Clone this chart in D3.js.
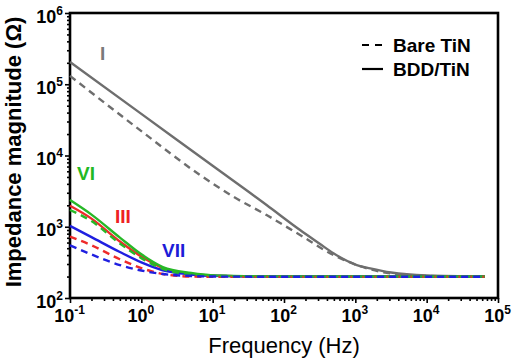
<!DOCTYPE html>
<html>
<head>
<meta charset="utf-8">
<script src="https://cdn.jsdelivr.net/npm/d3@7"></script>
<style>
  body { margin: 0; background: #fff; }
  text { font-family: "Liberation Sans", Arial, sans-serif; }
</style>
</head>
<body>
<svg id="chart" width="517" height="362"></svg>
<script>
// data (frequency in Hz, impedance in ohm)
const freqGray = [0.1, 1, 10, 57, 168, 316, 493, 1050, 1615, 3162, 10000, 65000];
const grayBDD = [205000, 38400, 7160, 2020, 900, 578, 424, 290, 261, 228, 207, 200];
const freqGrayBare = [0.1, 1, 6.65, 19.5, 57, 168, 493, 1450, 3162, 10000, 65000];
const grayBare = [131000, 22000, 5320, 2640, 1460, 766, 402, 261, 221, 204, 199];

const freqLow = [0.1, 0.2, 0.5, 1, 2, 5, 10, 100, 1000, 10000, 65000];
const greenBDD = [2370, 1480, 705, 410, 272, 224, 208, 201, 200, 200, 200];
const redBDD = [1970, 1300, 620, 382, 263, 217, 206, 200, 200, 200, 200];
const blueBDD = [1030, 716, 442, 316, 245, 214, 205, 200, 200, 200, 200];
const greenBare = [1720, 1200, 582, 363, 257, 215, 205, 200, 200, 200, 200];
const redBare = [725, 550, 350, 263, 217, 200, 198, 198, 198, 199, 199];
const blueBare = [550, 408, 290, 243, 217, 204, 200, 199, 199, 199, 199];

const xMajor = [-1, 0, 1, 2, 3, 4, 5];
const yMajor = [2, 3, 4, 5, 6];

const gray = "#6e6e6e", green = "#27b827", red = "#ee2a2a", blue = "#1f1fe0";

const svg = d3.select("#chart");
const plotL = 70, plotR = 498, plotT = 13, plotB = 298;

const x = d3.scaleLog().domain([0.1, 1e5]).range([plotL, plotR]);
const y = d3.scaleLog().domain([100, 1e6]).range([plotB, plotT]);

// minor ticks 2..9 per decade
let minorX = [], minorY = [];
for (let e = -1; e < 5; e++) for (let k = 2; k < 10; k++) minorX.push(k * Math.pow(10, e));
for (let e = 2; e < 6; e++) for (let k = 2; k < 10; k++) minorY.push(k * Math.pow(10, e));

const axisG = svg.append("g");

axisG.append("g")
  .attr("transform", "translate(0," + plotB + ")")
  .call(d3.axisBottom(x).tickValues(minorX).tickSize(3).tickFormat(""));
axisG.append("g")
  .attr("transform", "translate(" + plotL + ",0)")
  .call(d3.axisLeft(y).tickValues(minorY).tickSize(3).tickFormat(""));

const xg = axisG.append("g")
  .attr("transform", "translate(0," + plotB + ")")
  .call(d3.axisBottom(x).tickValues(xMajor.map(e => Math.pow(10, e))).tickSize(5));
const yg = axisG.append("g")
  .attr("transform", "translate(" + plotL + ",0)")
  .call(d3.axisLeft(y).tickValues(yMajor.map(e => Math.pow(10, e))).tickSize(5));

axisG.selectAll(".domain").remove();
axisG.selectAll(".tick line").attr("stroke", "#000").attr("stroke-width", 1.6);

// power-of-ten labels
function powLabel(sel) {
  sel.each(function (d) {
    const t = d3.select(this);
    const e = Math.round(Math.log10(d));
    t.text(null)
      .attr("fill", "#000")
      .attr("font-size", "18px")
      .attr("font-weight", "bold");
    t.append("tspan").text("10");
    t.append("tspan").attr("dy", -8).attr("font-size", "12px").text(e < 0 ? "-" + (-e) : e);
  });
}
xg.selectAll(".tick text").call(powLabel)
  .attr("y", 24).attr("dy", 0).attr("x", -1).attr("text-anchor", "middle");
yg.selectAll(".tick text").call(powLabel)
  .attr("x", -7).attr("dy", 0).attr("y", 9).attr("text-anchor", "end");

// frame
svg.append("rect")
  .attr("x", plotL).attr("y", plotT)
  .attr("width", plotR - plotL).attr("height", plotB - plotT)
  .attr("fill", "none").attr("stroke", "#000").attr("stroke-width", 2.6);

// curves
const line = d3.line()
  .x(d => x(d[0]))
  .y(d => y(d[1]))
  .curve(d3.curveMonotoneX);

const series = [
  { f: freqGray, z: grayBDD, color: gray, dash: null },
  { f: freqGrayBare, z: grayBare, color: gray, dash: "7,5" },
  { f: freqLow, z: redBDD, color: red, dash: null },
  { f: freqLow, z: blueBDD, color: blue, dash: null },
  { f: freqLow, z: greenBDD, color: green, dash: null },
  { f: freqLow, z: redBare, color: red, dash: "7,5" },
  { f: freqLow, z: greenBare, color: green, dash: "7,5" },
  { f: freqLow, z: blueBare, color: blue, dash: "7,5" }
];

svg.append("g").selectAll("path")
  .data(series)
  .enter()
  .append("path")
  .attr("d", s => line(s.f.map((f, i) => [f, s.z[i]])))
  .attr("fill", "none")
  .attr("stroke", s => s.color)
  .attr("stroke-width", 2.4)
  .attr("stroke-dasharray", s => s.dash);

// curve labels
const labels = [
  { t: "I", x: 100, y: 60, c: "#7a7a7a" },
  { t: "VI", x: 77, y: 180, c: "#22b822" },
  { t: "III", x: 115, y: 223, c: "#ee2222" },
  { t: "VII", x: 162, y: 257, c: "#1c1cd8" }
];
svg.append("g").selectAll("text")
  .data(labels)
  .enter()
  .append("text")
  .attr("x", d => d.x).attr("y", d => d.y)
  .attr("fill", d => d.c)
  .attr("font-size", "19px")
  .attr("font-weight", "bold")
  .text(d => d.t);

// legend
const legend = svg.append("g");
legend.append("line").attr("x1", 362).attr("x2", 383).attr("y1", 45).attr("y2", 45)
  .attr("stroke", "#000").attr("stroke-width", 2.2).attr("stroke-dasharray", "7,6");
legend.append("line").attr("x1", 362).attr("x2", 383).attr("y1", 69).attr("y2", 69)
  .attr("stroke", "#000").attr("stroke-width", 2.2);
legend.append("text").attr("x", 393).attr("y", 52)
  .attr("font-size", "19px").attr("font-weight", "bold").text("Bare TiN");
legend.append("text").attr("x", 393).attr("y", 76)
  .attr("font-size", "19px").attr("font-weight", "bold").text("BDD/TiN");

// axis titles
svg.append("text")
  .attr("x", 284).attr("y", 353)
  .attr("text-anchor", "middle")
  .attr("font-size", "22px")
  .text("Frequency (Hz)");
svg.append("text")
  .attr("transform", "translate(21,152) rotate(-90)")
  .attr("text-anchor", "middle")
  .attr("font-size", "22px")
  .attr("font-weight", "bold")
  .text("Impedance magnitude (Ω)");
</script>
</body>
</html>
